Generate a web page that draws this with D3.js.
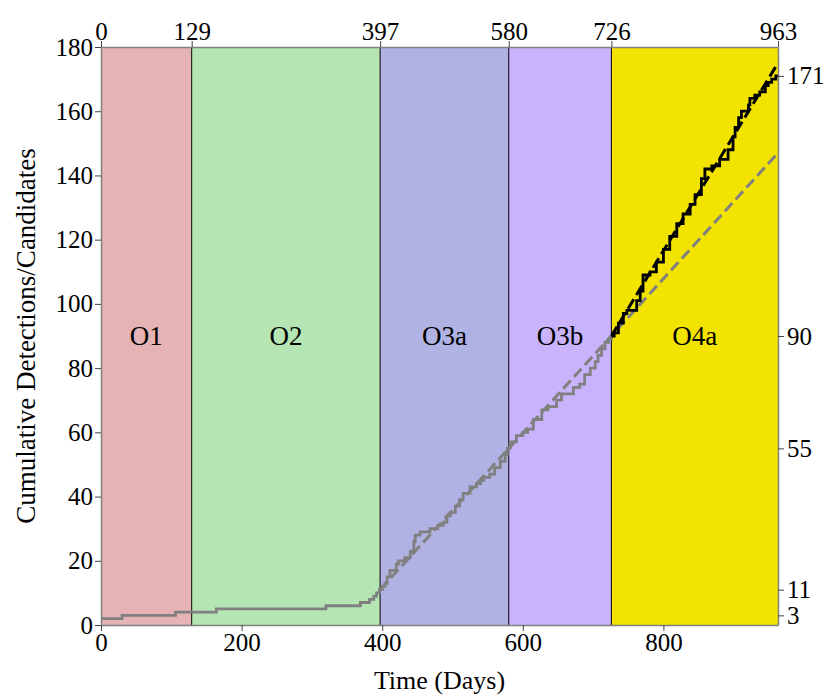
<!DOCTYPE html>
<html>
<head>
<meta charset="utf-8">
<script src="https://cdn.jsdelivr.net/npm/d3@7"></script>
<style>
  html, body { margin: 0; padding: 0; background: #fff; }
  svg { display: block; }
  text { font-family: "Liberation Serif", "DejaVu Serif", serif; fill: #000; }
</style>
</head>
<body>
<svg id="chart" width="830" height="696"></svg>
<script>
// Observing runs: start/end day and shading
const runNames = ["O1", "O2", "O3a", "O3b", "O4a"];
const runStarts = [0, 129, 397, 580, 726];
const runEnds = [129, 397, 580, 726, 963];
const runColors = ["#e5b3b3", "#b5e5b3", "#b0b2e3", "#c9b3fc", "#f2e400"];

// Cumulative count through O1–O3 (step points: day, count)
const pastDays = [0, 30, 106, 164, 320, 369, 382, 388, 392, 396, 400, 404, 407, 411, 420, 423, 432, 440, 445, 447, 454, 468, 479, 487, 492, 497, 504, 510, 515, 525, 534, 540, 544, 553, 560, 568, 575, 578, 582, 591, 600, 607, 615, 627, 636, 648, 655, 672, 681, 688, 696, 703, 707, 712, 717, 722, 726];
const pastCounts = [2, 3, 4, 5, 6, 7, 8, 9, 10, 11, 12, 13, 15, 17, 19, 20, 21, 23, 26, 28, 29, 30, 31, 32, 34, 35, 37, 39, 41, 43, 44, 45, 46, 47, 49, 51, 53, 55, 57, 59, 60, 61, 64, 67, 68, 70, 72, 74, 75, 78, 80, 82, 84, 86, 88, 89, 90];

// Cumulative count during O4a
const o4Days = [726, 730, 736, 743, 748, 762, 767, 771, 781, 790, 800, 809, 819, 828, 838, 845, 854, 859, 869, 880, 892, 899, 902, 907, 911, 921, 923, 930, 937, 945, 949, 954, 960, 963];
const o4Counts = [90, 91, 94, 97, 98, 101, 104, 109, 110, 113, 117, 121, 125, 128, 131, 134, 139, 142, 143, 145, 148, 152, 155, 158, 160, 162, 164, 165, 166, 168, 169, 170, 171, 171];

// Linear rate trends: O3 rate extrapolated, and O4a rate
const o3TrendDays = [397, 963];
const o3TrendCounts = [11, 147];
const o4TrendDays = [726, 963];
const o4TrendCounts = [90, 175];

// Axis ticks
const leftTicks = [0, 20, 40, 60, 80, 100, 120, 140, 160, 180];
const bottomTicks = [0, 200, 400, 600, 800];
const topTicks = [0, 129, 397, 580, 726, 963];
const rightTicks = [3, 11, 55, 90, 171];

const margin = { top: 47, right: 52, bottom: 71, left: 101 };
const W = 830, H = 696;
const tickFont = 25;
const labelFont = 27;
const svg = d3.select("#chart");
const x = d3.scaleLinear().domain([0, 963]).range([margin.left, W - margin.right]);
const y = d3.scaleLinear().domain([0, 180]).range([H - margin.bottom, margin.top]);

// Run shading
svg.append("g").selectAll("rect").data(runNames).join("rect")
  .attr("x", (d, i) => x(runStarts[i]))
  .attr("y", y(180))
  .attr("width", (d, i) => x(runEnds[i]) - x(runStarts[i]))
  .attr("height", y(0) - y(180))
  .attr("fill", (d, i) => runColors[i]);

// Run boundaries
svg.append("g").selectAll("line").data(runStarts.slice(1)).join("line")
  .attr("x1", d => x(d)).attr("x2", d => x(d))
  .attr("y1", y(0)).attr("y2", y(180))
  .attr("stroke", "#000").attr("stroke-width", 1);

// Run labels
svg.append("g").selectAll("text").data(runNames).join("text")
  .attr("x", (d, i) => x((runStarts[i] + runEnds[i]) / 2))
  .attr("y", y(90))
  .attr("dy", "0.35em")
  .attr("text-anchor", "middle")
  .attr("font-size", labelFont)
  .text(d => d);

const line = d3.line().x(d => x(d[0])).y(d => y(d[1]));
const stepLine = d3.line().x(d => x(d[0])).y(d => y(d[1])).curve(d3.curveStepAfter);

// Trend line from the O3 rate
svg.append("path")
  .attr("d", line(d3.zip(o3TrendDays, o3TrendCounts)))
  .attr("fill", "none").attr("stroke", "#808080")
  .attr("stroke-width", 3).attr("stroke-dasharray", "11,5");

// Cumulative counts
svg.append("path")
  .attr("d", stepLine(d3.zip(pastDays, pastCounts)))
  .attr("fill", "none").attr("stroke", "#808080")
  .attr("stroke-width", 2.8);

// Trend line from the O4a rate
svg.append("path")
  .attr("d", line(d3.zip(o4TrendDays, o4TrendCounts)))
  .attr("fill", "none").attr("stroke", "#000")
  .attr("stroke-width", 3).attr("stroke-dasharray", "11,5");

svg.append("path")
  .attr("d", stepLine(d3.zip(o4Days, o4Counts)))
  .attr("fill", "none").attr("stroke", "#000")
  .attr("stroke-width", 2.8);

// Axes
function styleAxis(g) {
  g.select(".domain").attr("stroke", "#808080").attr("stroke-width", 1.5);
  g.selectAll(".tick line").attr("stroke", "#444");
  g.selectAll(".tick text").attr("font-size", tickFont)
    .attr("font-family", "Liberation Serif, DejaVu Serif, serif").attr("fill", "#000");
}

svg.append("g").attr("transform", `translate(0,${y(0)})`)
  .call(d3.axisBottom(x).tickValues(bottomTicks).tickSize(6).tickPadding(2).tickSizeOuter(0))
  .call(styleAxis);

svg.append("g").attr("transform", `translate(0,${y(180)})`)
  .call(d3.axisTop(x).tickValues(topTicks).tickSize(6).tickPadding(1).tickSizeOuter(0))
  .call(styleAxis);

svg.append("g").attr("transform", `translate(${x(0)},0)`)
  .call(d3.axisLeft(y).tickValues(leftTicks).tickSize(6).tickPadding(2).tickSizeOuter(0))
  .call(styleAxis);

svg.append("g").attr("transform", `translate(${x(963)},0)`)
  .call(d3.axisRight(y).tickValues(rightTicks).tickSize(6).tickPadding(3).tickSizeOuter(0))
  .call(styleAxis);

// Axis titles
svg.append("text")
  .attr("x", x(481.5)).attr("y", 680)
  .attr("dy", "0.35em")
  .attr("text-anchor", "middle").attr("font-size", labelFont - 1)
  .text("Time (Days)");

svg.append("text")
  .attr("transform", `translate(26,${y(90)}) rotate(-90)`)
  .attr("dy", "0.35em")
  .attr("text-anchor", "middle").attr("font-size", labelFont)
  .text("Cumulative Detections/Candidates");
</script>
</body>
</html>
